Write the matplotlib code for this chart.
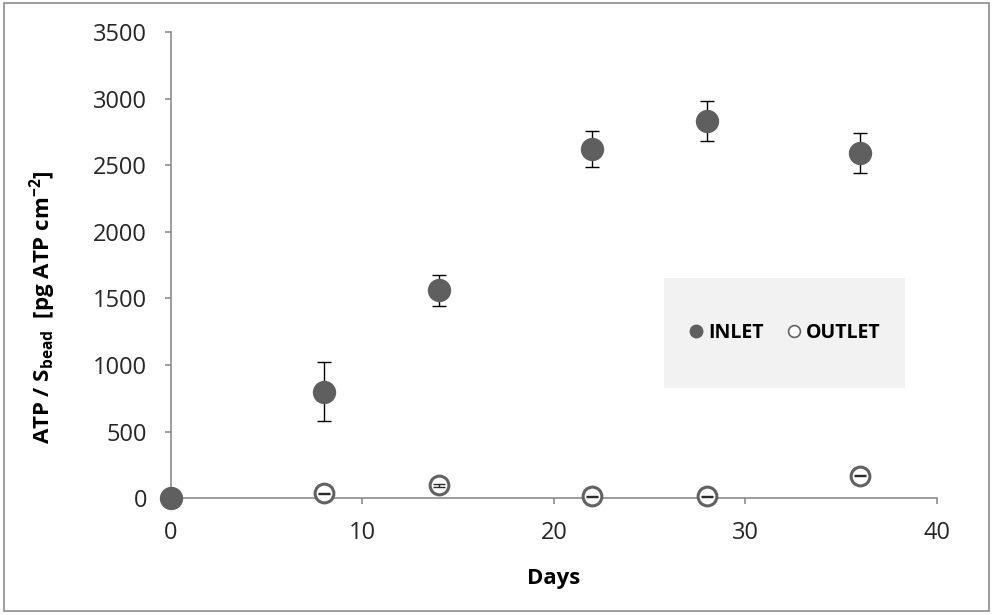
import matplotlib.pyplot as plt
from matplotlib.patches import Rectangle
from matplotlib.lines import Line2D

plt.rcParams['font.family'] = ['Open Sans', 'DejaVu Sans']
plt.rcParams['mathtext.fontset'] = 'custom'
plt.rcParams['mathtext.rm'] = 'Open Sans:bold'
plt.rcParams['mathtext.bf'] = 'Open Sans:bold'

# data
days = [0, 8, 14, 22, 28, 36]
inlet = [0, 800, 1560, 2625, 2830, 2590]
inlet_err = [0, 220, 115, 135, 150, 150]
outlet_days = [8, 14, 22, 28, 36]
outlet = [35, 95, 15, 15, 170]
outlet_err = [3, 12, 3, 3, 3]

fig = plt.figure(figsize=(9.94, 6.15), dpi=100)
ax = fig.add_axes([0.172, 0.19, 0.7706, 0.758])

# figure border
fig.patches.append(Rectangle((0.004, 0.006), 0.991, 0.989, transform=fig.transFigure,
                             fill=False, edgecolor='#8c8c8c', linewidth=1.2))

# inlet: error bars behind the filled markers
ax.errorbar(days, inlet, yerr=inlet_err, fmt='o', color='#5f5f5f', markersize=15.8,
            markeredgecolor='#5f5f5f', ecolor='black', elinewidth=1, capsize=5,
            capthick=1, zorder=3)
# outlet: open markers, error bars drawn on top
ax.plot(outlet_days, outlet, 'o', markerfacecolor='white', markeredgecolor='#626262',
        markeredgewidth=2.2, markersize=13.5, zorder=3)
ax.errorbar(outlet_days, outlet, yerr=outlet_err, fmt='none', ecolor='#2b2b2b',
            elinewidth=1, capsize=4.5, capthick=1, zorder=4)

ax.set_xlim(0, 40)
ax.set_ylim(0, 3500)
ax.set_xticks([0, 10, 20, 30, 40])
ax.set_yticks(range(0, 3501, 500))

for s in ['top', 'right']:
    ax.spines[s].set_visible(False)
for s in ['bottom', 'left']:
    ax.spines[s].set_color('#8c8c8c')
    ax.spines[s].set_linewidth(1.2)
ax.tick_params(direction='out', length=4.3, width=1.2, colors='#8c8c8c',
               labelcolor='#262626', labelsize=17)
ax.tick_params(axis='x', pad=12)
ax.tick_params(axis='y', pad=13)
for c in ax.collections:
    c.set_clip_on(False)
for l in ax.lines:
    l.set_clip_on(False)

ax.set_xlabel('Days', fontsize=16, fontweight='bold', labelpad=17)
ax.set_ylabel(r'ATP / S$_{\mathbf{bead}}$  [pg ATP cm$^{\mathbf{-2}}$]', fontsize=16,
              fontweight='bold')
ax.yaxis.set_label_coords(-0.148, 0.41)

# legend box
ax.add_patch(Rectangle((0.644, 0.236), 0.314, 0.236, transform=ax.transAxes,
                       facecolor='#f2f2f2', edgecolor='none', zorder=1))
handles = [
    Line2D([], [], linestyle='none', marker='o', markersize=9, color='#5f5f5f'),
    Line2D([], [], linestyle='none', marker='o', markersize=8.5, markerfacecolor='white',
           markeredgecolor='#626262', markeredgewidth=1.2),
]
ax.legend(handles, ['INLET', 'OUTLET'], loc='center', bbox_to_anchor=(0.801, 0.354),
          ncol=2, frameon=False, handlelength=0.8, handletextpad=0.2, columnspacing=1.2,
          prop={'weight': 'bold', 'size': 14})

plt.savefig('out.png', dpi=100)
